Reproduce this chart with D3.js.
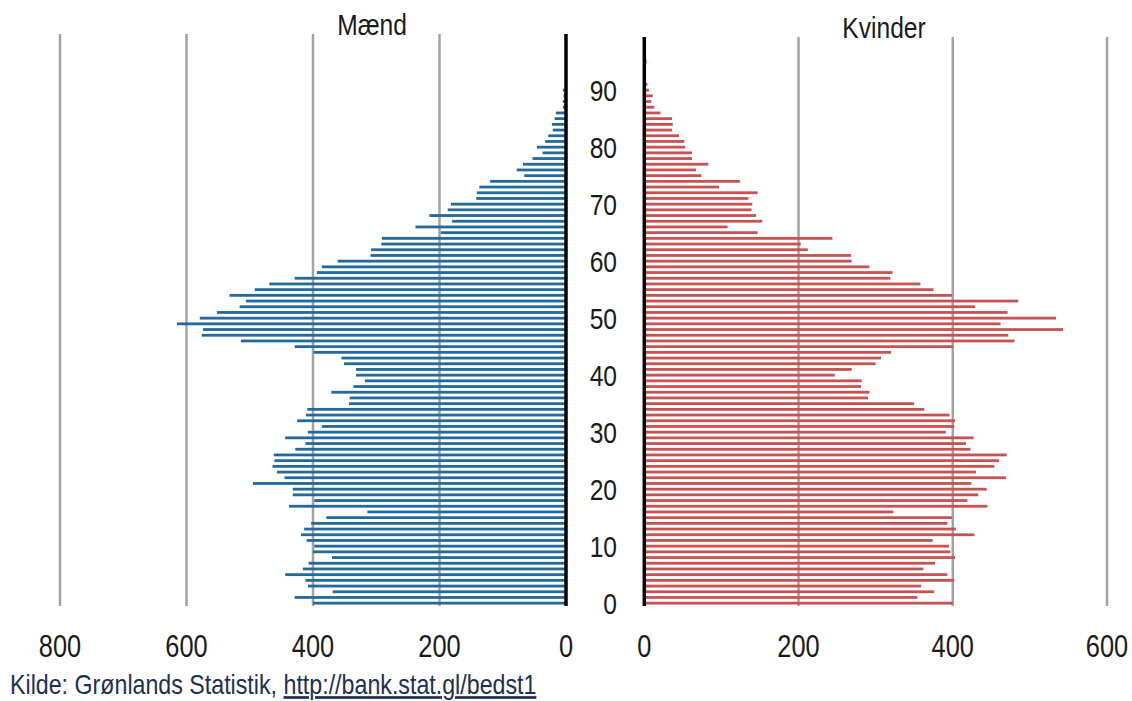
<!DOCTYPE html>
<html>
<head>
<meta charset="utf-8">
<script src="https://cdn.jsdelivr.net/npm/d3@7"></script>
<style>
  body { margin: 0; background: #fff; }
  svg { display: block; }
</style>
</head>
<body>
<script>
// alder 0..99
const ages = d3.range(0, 100);

const maend = [
    400, 429, 369, 408, 412, 444, 416, 407, 370, 400,
    398, 410, 419, 414, 403, 379, 314, 438, 398, 432,
    432, 495, 445, 457, 464, 461, 462, 428, 412, 444,
    408, 386, 425, 411, 409, 343, 342, 371, 336, 318,
    332, 332, 351, 355, 399, 429, 514, 576, 574, 615,
    579, 552, 516, 506, 532, 492, 469, 429, 394, 386,
    361, 309, 308, 292, 291, 198, 238, 180, 216, 187,
    182, 142, 141, 137, 120, 66, 78, 68, 53, 37,
    46, 33, 28, 21, 22, 18, 16, 5, 5, 4,
    5, 1, 1, 0, 0, 0, 0, 0, 0, 0
];

const kvinder = [
    400, 354, 376, 359, 402, 393, 362, 377, 403, 397,
    395, 374, 428, 404, 393, 399, 323, 445, 419, 433,
    444, 424, 469, 430, 454, 460, 470, 423, 417, 427,
    391, 402, 403, 396, 363, 350, 290, 292, 281, 282,
    247, 269, 300, 307, 320, 400, 480, 472, 543, 462,
    534, 471, 429, 485, 399, 375, 358, 319, 322, 292,
    269, 268, 212, 203, 244, 147, 108, 153, 145, 139,
    140, 135, 147, 97, 124, 74, 67, 83, 62, 62,
    53, 52, 45, 36, 37, 36, 21, 13, 9, 11,
    6, 4, 1, 0, 0, 3, 0, 0, 0, 0
];

const ageTicks = [0, 10, 20, 30, 40, 50, 60, 70, 80, 90];
const maendTicks = [800, 600, 400, 200, 0];
const kvinderTicks = [0, 200, 400, 600];
const titles = ["Mænd", "Kvinder"];
const sourceLabel = "Kilde: Grønlands Statistik, ";
const sourceUrl = "http://bank.stat.gl/bedst1";

drawChart();

function drawChart() {
    const width = 1132, height = 701;
    const font = "'Liberation Sans', Arial, sans-serif";
    const squeeze = 0.82;   // smal skrift

    const svg = d3.select("body")
        .append("svg")
        .attr("width", width)
        .attr("height", height);

    const yScale = d3.scaleBand()
        .domain(ages)
        .range([606, 36])
        .paddingInner(0);

    const xLeft = d3.scaleLinear()
        .domain([0, 800])
        .range([566, 60]);

    const xRight = d3.scaleLinear()
        .domain([0, 600])
        .range([644.3, 1107]);

    const barH = 2.8;
    const yBar = function(a) { return yScale(a) + (yScale.bandwidth() - barH) / 2; };

    // tekst med smal bredde
    function narrow(sel, x, y, size) {
        return sel
            .attr("transform", function(d, i) {
                return "translate(" + x(d, i) + "," + y(d, i) + ") scale(" + squeeze + ",1)";
            })
            .style("font-family", font)
            .style("font-size", size + "px")
            .attr("fill", "#1a1a1a");
    }

    // gitterlinjer
    svg.append("g")
        .selectAll("line")
        .data(maendTicks.filter(function(d) { return d > 0; }))
        .enter()
        .append("line")
        .attr("x1", function(d) { return xLeft(d); })
        .attr("x2", function(d) { return xLeft(d); })
        .attr("y1", 34)
        .attr("y2", 606)
        .attr("stroke", "#a3a3a3")
        .attr("stroke-width", 2.5);

    svg.append("g")
        .selectAll("line")
        .data(kvinderTicks.filter(function(d) { return d > 0; }))
        .enter()
        .append("line")
        .attr("x1", function(d) { return xRight(d); })
        .attr("x2", function(d) { return xRight(d); })
        .attr("y1", 37)
        .attr("y2", 606)
        .attr("stroke", "#a3a3a3")
        .attr("stroke-width", 2.5);

    // søjler
    svg.append("g")
        .selectAll("rect")
        .data(ages)
        .enter()
        .append("rect")
        .attr("x", function(a) { return xLeft(maend[a]); })
        .attr("y", yBar)
        .attr("width", function(a) { return xLeft(0) - xLeft(maend[a]); })
        .attr("height", barH)
        .attr("fill", "#22699c");

    svg.append("g")
        .selectAll("rect")
        .data(ages)
        .enter()
        .append("rect")
        .attr("x", xRight(0))
        .attr("y", yBar)
        .attr("width", function(a) { return xRight(kvinder[a]) - xRight(0); })
        .attr("height", barH)
        .attr("fill", "#c65252");

    // akser
    svg.append("line")
        .attr("x1", xLeft(0)).attr("x2", xLeft(0))
        .attr("y1", 34).attr("y2", 606)
        .attr("stroke", "#000")
        .attr("stroke-width", 3.5);

    svg.append("line")
        .attr("x1", xRight(0)).attr("x2", xRight(0))
        .attr("y1", 37).attr("y2", 606)
        .attr("stroke", "#000")
        .attr("stroke-width", 3.5);

    // aldersetiketter
    narrow(svg.append("g")
        .selectAll("text")
        .data(ageTicks)
        .enter()
        .append("text"),
        function() { return 617; },
        function(a) { return yScale(a) + yScale.bandwidth() / 2; },
        30)
        .attr("dy", "0.36em")
        .attr("text-anchor", "end")
        .text(function(d) { return d; });

    // x-etiketter
    narrow(svg.append("g")
        .selectAll("text")
        .data(maendTicks)
        .enter()
        .append("text"),
        function(d) { return xLeft(d); },
        function() { return 657; },
        31)
        .attr("text-anchor", "middle")
        .text(function(d) { return d; });

    narrow(svg.append("g")
        .selectAll("text")
        .data(kvinderTicks)
        .enter()
        .append("text"),
        function(d) { return xRight(d); },
        function() { return 657; },
        31)
        .attr("text-anchor", "middle")
        .text(function(d) { return d; });

    // titler
    narrow(svg.append("g")
        .selectAll("text")
        .data(titles)
        .enter()
        .append("text"),
        function(d, i) { return i === 0 ? 372 : 884; },
        function(d, i) { return i === 0 ? 35 : 38; },
        30)
        .attr("text-anchor", "middle")
        .text(function(d) { return d; });

    // kilde
    const src = svg.append("text")
        .attr("transform", "translate(10,694) scale(0.86,1)")
        .style("font-family", font)
        .style("font-size", "27px")
        .attr("fill", "#1d2f55");
    src.append("tspan").text(sourceLabel);
    src.append("tspan")
        .style("text-decoration", "underline")
        .text(sourceUrl);
}
</script>
</body>
</html>
